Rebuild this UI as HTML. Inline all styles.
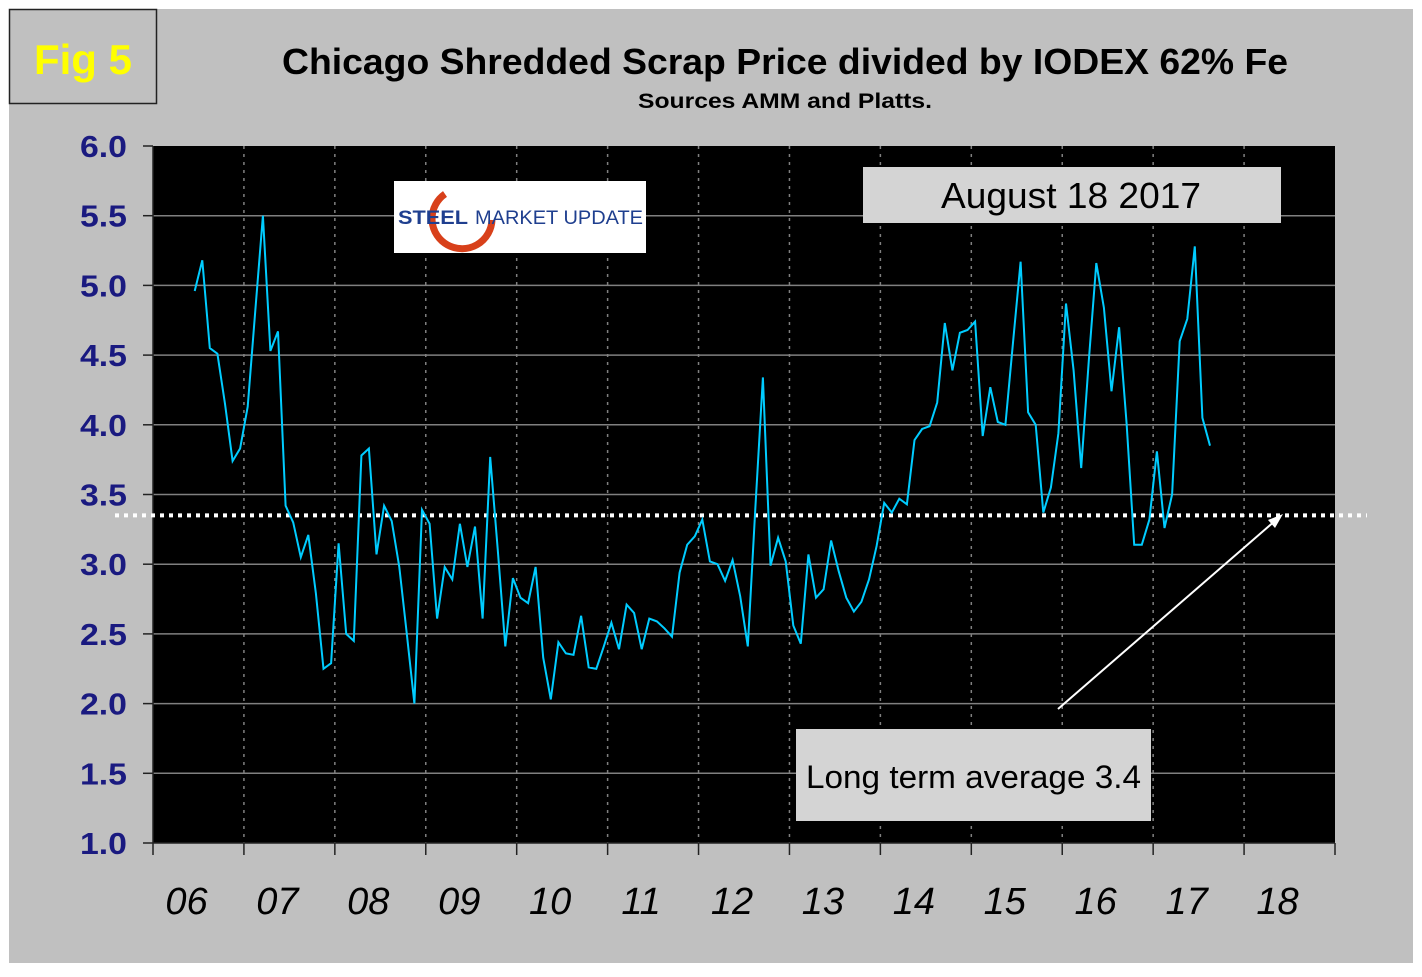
<!DOCTYPE html>
<html><head><meta charset="utf-8"><style>
body{margin:0;width:1422px;height:972px;background:#fff;overflow:hidden;font-family:"Liberation Sans",sans-serif}
</style></head><body>
<svg width="1422" height="972" xmlns="http://www.w3.org/2000/svg">
<rect x="9" y="9" width="1404" height="954" fill="#c0c0c0"/>
<g>
<rect x="9.5" y="9.5" width="147" height="94" fill="#c0c0c0" stroke="#222" stroke-width="1.5"/>
<text x="83" y="74" text-anchor="middle" font-size="42" font-weight="bold" fill="#ffff00">Fig 5</text>
</g>
<text x="282" y="74" font-size="36" font-weight="bold" fill="#000" textLength="1006" lengthAdjust="spacingAndGlyphs">Chicago Shredded Scrap Price divided by IODEX 62% Fe</text>
<text x="638" y="108" font-size="21" font-weight="bold" fill="#000" textLength="294" lengthAdjust="spacingAndGlyphs">Sources AMM and Platts.</text>
<rect x="153" y="146" width="1182" height="697" fill="#000"/>
<g id="grid"></g><g id="axes"></g>
<g>
<rect x="394" y="181" width="252" height="72" fill="#fff"/>
<path d="M445 194 A30 30 0 1 0 492 220" fill="none" stroke="#d8401a" stroke-width="7"/>
<text x="398" y="224" font-size="19" font-weight="bold" fill="#1f3f8f" textLength="70" lengthAdjust="spacingAndGlyphs">STEEL</text>
<text x="475" y="224" font-size="19" fill="#1f3f8f" textLength="168" lengthAdjust="spacingAndGlyphs">MARKET UPDATE</text>
</g>
<g>
<rect x="863" y="167" width="418" height="56" fill="#d4d4d4"/>
<text x="941" y="208" font-size="36" fill="#000" textLength="260" lengthAdjust="spacingAndGlyphs">August 18 2017</text>
</g>
<g id="series"></g>
<g>
<line x1="1058" y1="709" x2="1276" y2="520" stroke="#fff" stroke-width="2"/>
<path d="M1283 514 L1268 520 L1275 528 Z" fill="#fff"/>
<rect x="796" y="729" width="355" height="92" fill="#d4d4d4"/>
<text x="806" y="788" font-size="32" fill="#000" textLength="335" lengthAdjust="spacingAndGlyphs">Long term average 3.4</text>
</g>
</svg>
<script>
const years=["06","07","08","09","10","11","12","13","14","15","16","17","18"];
const yTicks=[1.0,1.5,2.0,2.5,3.0,3.5,4.0,4.5,5.0,5.5,6.0];
const startMonth=5;
const ratio=[4.96,5.18,4.55,4.51,4.15,3.74,3.83,4.13,4.82,5.50,4.53,4.67,3.42,3.30,3.05,3.21,2.79,2.25,2.29,3.15,2.50,2.45,3.78,3.83,3.07,3.42,3.31,2.98,2.50,2.00,3.39,3.29,2.61,2.98,2.89,3.29,2.98,3.27,2.61,3.77,3.10,2.41,2.90,2.76,2.72,2.98,2.33,2.03,2.44,2.36,2.35,2.63,2.26,2.25,2.41,2.58,2.39,2.71,2.65,2.39,2.61,2.59,2.54,2.48,2.94,3.14,3.20,3.32,3.02,3.00,2.88,3.03,2.77,2.41,3.41,4.34,2.99,3.19,3.02,2.56,2.43,3.07,2.76,2.82,3.17,2.95,2.76,2.66,2.73,2.89,3.13,3.44,3.37,3.47,3.43,3.89,3.97,3.99,4.16,4.73,4.39,4.66,4.68,4.74,3.92,4.27,4.02,4.00,4.59,5.17,4.09,4.00,3.37,3.55,3.94,4.87,4.39,3.69,4.46,5.16,4.84,4.24,4.70,4.01,3.14,3.14,3.32,3.81,3.26,3.50,4.60,4.76,5.28,4.05,3.85];
const average=[3.35];
const X0=153,X1=1335,Y0=843,Y1=146,yMin=1,yMax=6,nYears=13;
const xm=m=>X0+(m+0.5)*(X1-X0)/(nYears*12);
const xy=i=>X0+i*(X1-X0)/nYears;
const yv=v=>Y0-(v-yMin)/(yMax-yMin)*(Y0-Y1);
const NS="http://www.w3.org/2000/svg";
function mk(t,a,p){const e=document.createElementNS(NS,t);for(const k in a)e.setAttribute(k,a[k]);p.appendChild(e);return e;}
const grid=document.getElementById('grid'),axes=document.getElementById('axes'),ser=document.getElementById('series');
yTicks.forEach(v=>{
 if(v>yMin&&v<yMax){const g=mk('line',{x1:X0,x2:X1,y1:yv(v),y2:yv(v),stroke:'#808080','stroke-width':1.5},grid);
 
 }
 const t=mk('text',{x:80,y:yv(v)+11,'font-size':31,'font-weight':'bold',fill:'#1a1a80',textLength:47,lengthAdjust:'spacingAndGlyphs'},axes);
 t.textContent=v.toFixed(1);
 
 
 const tk=mk('line',{x1:143,x2:X0,y1:yv(v),y2:yv(v),stroke:'#222','stroke-width':1.5},axes);
 
 
});
for(let i=0;i<=nYears;i++){
 if(i>0&&i<nYears){const g=mk('line',{x1:xy(i),x2:xy(i),y1:Y1,y2:Y0,stroke:'#808080','stroke-width':1.5,'stroke-dasharray':'3,5'},grid);
 
 }
 const tk=mk('line',{x1:xy(i),x2:xy(i),y1:Y0,y2:Y0+12,stroke:'#222','stroke-width':1.5},axes);
 
 
}
mk('line',{x1:X0,x2:X1,y1:Y0,y2:Y0,stroke:'#222','stroke-width':1.5},axes);
mk('line',{x1:X0,x2:X0,y1:Y1,y2:Y0,stroke:'#222','stroke-width':1.5},axes);
years.forEach((y,i)=>{
 const t=mk('text',{x:(xy(i)+xy(i+1))/2-12,y:914,'text-anchor':'middle','font-size':38,'font-style':'italic',fill:'#000'},axes);
 t.textContent=y;
 
 
});
const avg=mk('line',{x1:115,x2:1367,y1:yv(average[0]),y2:yv(average[0]),stroke:'#fff','stroke-width':4,'stroke-dasharray':'4,5'},ser);


const pts=ratio.map((v,i)=>xm(startMonth+i).toFixed(1)+','+yv(v).toFixed(1)).join(' ');
const pl=mk('polyline',{points:pts,fill:'none',stroke:'#00ccff','stroke-width':2,'stroke-linejoin':'miter'},ser);


</script>
</body></html>
